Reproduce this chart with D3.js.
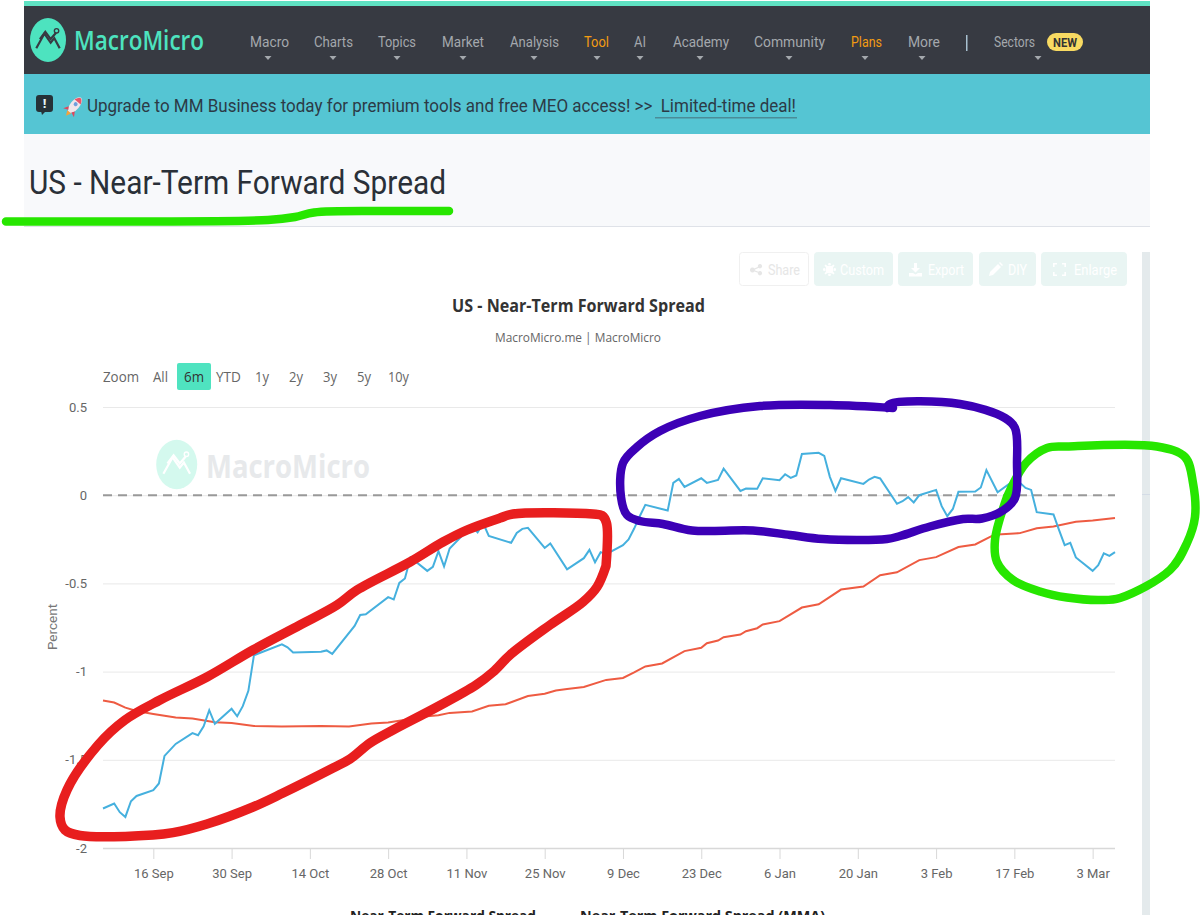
<!DOCTYPE html>
<html>
<head>
<meta charset="utf-8">
<title>US - Near-Term Forward Spread</title>
<script src="https://cdn.jsdelivr.net/npm/d3@7/dist/d3.min.js"></script>
<style>
html,body{margin:0;padding:0;background:#fff;overflow:hidden}
svg{display:block;font-family:"Open Sans",sans-serif}
</style>
</head>
<body>
<svg id="page" width="1200" height="915"></svg>
<script>
// Near-term forward spread, daily close
const spreadDates = ["2024-09-07","2024-09-09","2024-09-10","2024-09-11","2024-09-12","2024-09-13","2024-09-16","2024-09-17","2024-09-18","2024-09-20","2024-09-23","2024-09-24","2024-09-25","2024-09-26","2024-09-27","2024-09-30","2024-10-01","2024-10-02","2024-10-03","2024-10-04","2024-10-09","2024-10-10","2024-10-11","2024-10-16","2024-10-17","2024-10-18","2024-10-22","2024-10-23","2024-10-24","2024-10-28","2024-10-29","2024-10-30","2024-10-31","2024-11-01","2024-11-04","2024-11-05","2024-11-06","2024-11-07","2024-11-08","2024-11-11","2024-11-12","2024-11-13","2024-11-14","2024-11-15","2024-11-19","2024-11-20","2024-11-21","2024-11-22","2024-11-25","2024-11-26","2024-11-29","2024-12-02","2024-12-03","2024-12-04","2024-12-05","2024-12-06","2024-12-09","2024-12-10","2024-12-11","2024-12-12","2024-12-13","2024-12-17","2024-12-18","2024-12-19","2024-12-20","2024-12-23","2024-12-24","2024-12-26","2024-12-27","2024-12-30","2024-12-31","2025-01-02","2025-01-03","2025-01-06","2025-01-07","2025-01-08","2025-01-09","2025-01-10","2025-01-13","2025-01-14","2025-01-15","2025-01-16","2025-01-17","2025-01-21","2025-01-22","2025-01-23","2025-01-24","2025-01-27","2025-01-28","2025-01-29","2025-01-30","2025-01-31","2025-02-03","2025-02-04","2025-02-05","2025-02-06","2025-02-07","2025-02-10","2025-02-11","2025-02-12","2025-02-14","2025-02-17","2025-02-18","2025-02-19","2025-02-20","2025-02-21","2025-02-24","2025-02-25","2025-02-26","2025-02-27","2025-02-28","2025-03-03","2025-03-04","2025-03-05","2025-03-06","2025-03-07"];
const spreadValues = [-1.776,-1.748,-1.797,-1.824,-1.735,-1.705,-1.672,-1.634,-1.478,-1.410,-1.349,-1.361,-1.310,-1.219,-1.296,-1.211,-1.253,-1.196,-1.109,-0.907,-0.846,-0.862,-0.892,-0.888,-0.880,-0.900,-0.741,-0.679,-0.675,-0.578,-0.591,-0.497,-0.472,-0.353,-0.429,-0.406,-0.317,-0.404,-0.302,-0.204,-0.176,-0.211,-0.159,-0.231,-0.270,-0.214,-0.191,-0.185,-0.299,-0.274,-0.420,-0.357,-0.310,-0.380,-0.323,-0.334,-0.283,-0.251,-0.189,-0.119,-0.055,-0.087,0.070,0.092,0.047,0.096,0.070,0.087,0.151,0.024,0.038,0.036,0.096,0.085,0.119,0.098,0.112,0.234,0.240,0.223,0.104,0.024,0.096,0.064,0.089,0.104,0.095,-0.049,-0.034,-0.011,-0.041,0.000,0.030,-0.062,-0.119,-0.078,0.019,0.021,0.044,0.142,0.017,0.085,0.070,0.041,0.030,-0.096,-0.109,-0.198,-0.283,-0.270,-0.353,-0.429,-0.397,-0.329,-0.344,-0.323];

// Moving average of the same spread
const averageDates = ["2024-09-07","2024-09-09","2024-09-11","2024-09-13","2024-09-16","2024-09-20","2024-09-23","2024-09-27","2024-09-30","2024-10-04","2024-10-09","2024-10-16","2024-10-21","2024-10-25","2024-10-28","2024-10-30","2024-11-04","2024-11-06","2024-11-08","2024-11-12","2024-11-15","2024-11-18","2024-11-22","2024-11-25","2024-11-27","2024-11-29","2024-12-02","2024-12-06","2024-12-09","2024-12-11","2024-12-13","2024-12-16","2024-12-20","2024-12-23","2024-12-24","2024-12-26","2024-12-27","2024-12-30","2024-12-31","2025-01-02","2025-01-03","2025-01-06","2025-01-10","2025-01-13","2025-01-17","2025-01-21","2025-01-24","2025-01-27","2025-01-31","2025-02-03","2025-02-07","2025-02-10","2025-02-13","2025-02-14","2025-02-17","2025-02-18","2025-02-21","2025-02-24","2025-02-28","2025-03-03","2025-03-07"];
const averageValues = [-1.164,-1.175,-1.204,-1.223,-1.240,-1.260,-1.266,-1.287,-1.291,-1.308,-1.311,-1.308,-1.311,-1.294,-1.289,-1.279,-1.253,-1.247,-1.234,-1.226,-1.194,-1.185,-1.138,-1.126,-1.107,-1.098,-1.087,-1.047,-1.036,-1.005,-0.971,-0.954,-0.884,-0.865,-0.839,-0.824,-0.805,-0.790,-0.771,-0.754,-0.733,-0.714,-0.637,-0.618,-0.535,-0.518,-0.454,-0.437,-0.368,-0.351,-0.294,-0.279,-0.231,-0.223,-0.217,-0.215,-0.187,-0.177,-0.151,-0.143,-0.129];

const xTickDates = ["2024-09-16","2024-09-30","2024-10-14","2024-10-28","2024-11-11","2024-11-25","2024-12-09","2024-12-23","2025-01-06","2025-01-20","2025-02-03","2025-02-17","2025-03-03"];
const yTickValues = [-2,-1.5,-1,-0.5,0,0.5];

// Site header and toolbar text: label, left edge, width, caret centre
const navItems = [
  ["Macro",250,39,268],["Charts",314,39,333],["Topics",378,38,397],["Market",442,42,463],
  ["Analysis",510,49,534],["Tool",584,25,597],["AI",634,12,640],["Academy",673,56,700],
  ["Community",754,71,789],["Plans",851,31,865],["More",908,32,922],["Sectors",994,41,1038]
];
const accentNav = ["Tool","Plans"];
const rangeButtons = [["Zoom",103,36],["All",153,15],["6m",184,20],["YTD",216,25],["1y",255,14],["2y",289,14],["3y",323,14],["5y",357,14],["10y",388,21]];
// label, button left, button width, text left, text width, icon left
const toolButtons = [
  ["Share",739,70,768,32,750],["Custom",814,79,840,44,823],["Export",898,75,928,36,909],
  ["DIY",979,57,1008,19,989],["Enlarge",1041,86,1074,43,1053]
];
// Small toolbar glyphs, 13 units square
const toolIcons = [
  "M10,1 a2.2,2.2 0 1,1 -0.1,0 Z M2.5,4.5 a2.5,2.5 0 1,1 -0.1,0 Z M10,8 a2.2,2.2 0 1,1 -0.1,0 Z M3,6 L10,3 L10.5,4 L4,7 L10.5,9.5 L10,10.5 L3,8 Z",
  "M6.5,2.5 a4,4 0 1,0 0.01,0 Z M5.5,0 h2 l0.4,2 h-2.8 Z M5.5,13 h2 l0.4,-2 h-2.8 Z M0,5.5 v2 l2,0.4 v-2.8 Z M13,5.5 v2 l-2,0.4 v-2.8 Z M1.5,2.5 l1,-1 l2,1.5 l-1.5,1.5 Z M11.5,2.5 l-1,-1 l-2,1.5 l1.5,1.5 Z M1.5,10.5 l1,1 l2,-1.5 l-1.5,-1.5 Z M11.5,10.5 l-1,1 l-2,-1.5 l1.5,-1.5 Z",
  "M5,0 h3 v5 h3 l-4.5,4.5 L2,5 h3 Z M0,10 h4 l2.5,1.5 L9,10 h4 v3.5 h-13 Z",
  "M0,13 L1,9 L9,1 L12,4 L4,12 Z M10,0 L11,-1 L14,2 L13,3 Z",
  "M0,0 h4 v1.6 h-2.4 v2.4 h-1.6 Z M13,0 h-4 v1.6 h2.4 v2.4 h1.6 Z M0,13 h4 v-1.6 h-2.4 v-2.4 h-1.6 Z M13,13 h-4 v-1.6 h2.4 v-2.4 h1.6 Z"
];

// Freehand marker strokes drawn over the page
const markerUnderline = [[6,221.5],[115,221.5],[268,220],[295,217],[314,212.5],[383,211],[449,211]];
const markerRed = [[606,566],[606.5,523],[602,515.5],[593,514],[513,514],[500,518],[467,530],[443,542],[410,562],[357,590],[337,605],[300,625],[253,650],[207,677],[160,700],[125,720],[98,745],[67,790],[60,817],[65,830],[80,835.5],[153,835],[173,832.7],[207,824],[253,807],[283,793],[333,768],[350,759],[370,743],[393,730],[437,707],[476,685],[493,672],[510,655],[550,625],[583,602],[597,587],[606,566]];
const markerPurpleLeft = [[893,408],[830,405],[760,406],[700,416],[660,431],[637,447],[623,463],[621,497],[627,515],[640,521],[663,524],[692,530.5],[753,530.5],[790,535],[823,539],[887,539],[900,536],[930,526.5],[963,519],[982,518.5],[1003,510.5],[1015,498],[1017,463],[1015,428],[1005,418],[960,404],[890,404],[887,408]];
const markerGreen = [[1007,497],[1026,463],[1047,448],[1067,446.5],[1157,446.5],[1185,457],[1193,483],[1195,517],[1187,543],[1170,570],[1120,598],[1100,600],[1067,597.5],[1040,591.5],[1013,580],[997,562],[995,540],[1007,497]];

const parse = d3.utcParse("%Y-%m-%d");
const svg = d3.select("#page");

// Text squeezed to an exact width so the condensed header type lines up
function fitText(g, str, x, y, width, size, fill, weight) {
  return g.append("text").attr("x", x).attr("y", y).attr("fill", fill)
    .attr("font-size", size).attr("font-weight", weight || 400)
    .attr("textLength", width).attr("lengthAdjust", "spacingAndGlyphs").text(str);
}

function drawLogo(g, cx, cy, rx, ry, fill, stroke) {
  g.append("ellipse").attr("cx", cx).attr("cy", cy).attr("rx", rx).attr("ry", ry).attr("fill", fill);
  const sx = rx / 20, sy = ry / 24;
  const zig = [[-13,9],[-4,-7],[3,3],[7,-2],[13,9]].map(p => [cx + p[0]*sx, cy + p[1]*sy]);
  const zig2 = [[-9,-1],[-3,-9],[3,-1],[9,-8]].map(p => [cx + p[0]*sx, cy + p[1]*sy]);
  const line = d3.line();
  g.append("path").attr("d", line(zig)).attr("fill","none").attr("stroke",stroke).attr("stroke-width",2.2);
  g.append("path").attr("d", line(zig2)).attr("fill","none").attr("stroke",stroke).attr("stroke-width",2.2);
  g.append("circle").attr("cx", cx + 9.5*sx).attr("cy", cy - 10*sy).attr("r", 2.2).attr("fill","none").attr("stroke",stroke).attr("stroke-width",1.4);
}

// ---- Site header ----
const head = svg.append("g");
head.append("rect").attr("x",24).attr("y",1).attr("width",1126).attr("height",5).attr("fill","#5fe2c3");
head.append("rect").attr("x",24).attr("y",6).attr("width",1126).attr("height",68).attr("fill","#373a42");
head.append("rect").attr("x",24).attr("y",74).attr("width",1126).attr("height",60).attr("fill","#55c5d3");
head.append("rect").attr("x",24).attr("y",134).attr("width",1126).attr("height",92).attr("fill","#f8f9fb");
head.append("rect").attr("x",24).attr("y",226).attr("width",1126).attr("height",1).attr("fill","#dfe2e8");

drawLogo(head, 48, 40, 18, 22, "#4de3bf", "#373a42");
fitText(head, "MacroMicro", 74, 50, 130, 27, "#4de3bf", 600);

navItems.forEach(([label, x, w, caret]) => {
  fitText(head, label, x, 47, w, 15, accentNav.includes(label) ? "#f39c12" : "#a4a8ad").attr("font-family","Roboto");
  head.append("path").attr("d", d3.line()([[caret-3.5,56],[caret+3.5,56],[caret,60]])).attr("fill","#a4a8ad");
});
head.append("rect").attr("x",966).attr("y",35).attr("width",1.5).attr("height",16).attr("fill","#a8c0d0");
head.append("rect").attr("x",1047).attr("y",33).attr("width",36).attr("height",18).attr("rx",9).attr("fill","#f8da62");
fitText(head, "NEW", 1053, 47, 24, 12, "#333", 700).attr("font-family","Roboto");

// Announcement banner
head.append("rect").attr("x",36).attr("y",95).attr("width",17).attr("height",17).attr("rx",3).attr("fill","#263238");
head.append("path").attr("d", d3.line()([[41,111],[46,111],[42,115]])).attr("fill","#263238");
head.append("text").attr("x",44.5).attr("y",108).attr("text-anchor","middle").attr("font-size",13).attr("font-weight",700).attr("fill","#e8f4f6").text("!");
const rocket = head.append("g").attr("transform","translate(75,105) rotate(40)");
rocket.append("ellipse").attr("rx",4.5).attr("ry",9.5).attr("fill","#f1e6ea");
rocket.append("path").attr("d","M-4,-4 Q0,-14 4,-4 Z").attr("fill","#ea5468");
rocket.append("circle").attr("cy",-1).attr("r",2).attr("fill","#6f9fdc");
rocket.append("path").attr("d","M-4,5 L-7,10 L-2,8 Z M4,5 L7,10 L2,8 Z").attr("fill","#e0475c");
rocket.append("path").attr("d","M-2.5,9 L0,14 L2.5,9 Z").attr("fill","#f6a33b");
fitText(head, "Upgrade to MM Business today for premium tools and free MEO access! >>\u00a0\u00a0Limited-time deal!", 87, 112, 709, 18.5, "#2c3a46").attr("font-family","Roboto");
head.append("rect").attr("x",655).attr("y",117).attr("width",142).attr("height",1.5).attr("fill","#4a8c98");

fitText(head, "US - Near-Term Forward Spread", 29, 194, 417, 33, "#2a3038").attr("font-family","Roboto");

// ---- Chart toolbar ----
const toolbar = svg.append("g");
toolButtons.forEach(([label, x, w, tx, tw, ix], i) => {
  const ink = i === 0 ? "#e6e6e6" : "#fff";
  toolbar.append("rect").attr("x",x+0.5).attr("y",252.5).attr("width",w-1).attr("height",33).attr("rx",3)
    .attr("fill", i === 0 ? "#fff" : "#e9f5f3").attr("stroke", i === 0 ? "#f0f0f0" : "#e9f5f3");
  fitText(toolbar, label, tx, 275, tw, 15, ink).attr("font-family","Roboto");
  toolbar.append("path").attr("transform",`translate(${ix},263)`).attr("d",toolIcons[i]).attr("fill",ink);
});
svg.append("rect").attr("x",1142).attr("y",252).attr("width",8).attr("height",663).attr("fill","#e4eaec");
svg.append("rect").attr("x",1142).attr("y",494).attr("width",8).attr("height",1).attr("fill","#d4dce6");

// ---- Chart ----
const chart = svg.append("g");
fitText(chart, "US - Near-Term Forward Spread", 452, 312, 253, 17.5, "#333", 700);
fitText(chart, "MacroMicro.me | MacroMicro", 495, 342, 166, 13.5, "#666");

chart.append("rect").attr("x",177).attr("y",363).attr("width",34).attr("height",27).attr("rx",2).attr("fill","#4fe3c0");
rangeButtons.forEach(([label, x, w]) => fitText(chart, label, x, 382, w, 15, label === "6m" ? "#333" : "#666"));

drawLogo(chart, 176.7, 464.5, 20.5, 24.7, "#d4f9ee", "#fff");
fitText(chart, "MacroMicro", 206, 478, 164, 33, "#e7e9eb", 700);

const x = d3.scaleUtc().domain([parse("2024-09-07"), parse("2025-03-07")]).range([103, 1115]);
const y = d3.scaleLinear().domain([-2, 0.5]).range([848, 407]);

const yAxis = d3.axisLeft(y).tickValues(yTickValues).tickSize(0).tickPadding(16).tickFormat(d => String(d));
const yG = chart.append("g").attr("transform","translate(103,0)").call(yAxis);
yG.select(".domain").remove();
yG.selectAll("text").attr("fill","#666").attr("font-size",13).attr("font-family","Roboto");

chart.append("g").selectAll("line").data(yTickValues).join("line")
  .attr("x1",103).attr("x2",1115).attr("y1",d=>y(d)+0.5).attr("y2",d=>y(d)+0.5)
  .attr("stroke",d=>d===-2?"#d8d8d8":"#e9e9e9").attr("stroke-width",d=>d===-2?1.5:1);

const xAxis = d3.axisBottom(x).tickValues(xTickDates.map(parse)).tickSize(11).tickPadding(10).tickFormat(d3.utcFormat("%-d %b"));
const xG = chart.append("g").attr("transform","translate(0,848)").call(xAxis);
xG.select(".domain").remove();
xG.selectAll("line").attr("stroke","#d8d8d8");
xG.selectAll("text").attr("fill","#666").attr("font-size",13).attr("font-family","Roboto");

chart.append("text").attr("transform","translate(57,627) rotate(-90)").attr("text-anchor","middle")
  .attr("font-size",13.5).attr("font-family","Roboto").attr("fill","#777").text("Percent");

// Zero reference line
chart.append("line").attr("x1",103).attr("x2",1115).attr("y1",y(0)).attr("y2",y(0))
  .attr("stroke","#999").attr("stroke-width",2).attr("stroke-dasharray","9,6");

const seriesLine = d3.line().x(d=>x(d[0])).y(d=>y(d[1]));
chart.append("path").datum(averageDates.map((d,i)=>[parse(d),averageValues[i]]))
  .attr("d",seriesLine).attr("fill","none").attr("stroke","#ee5b42").attr("stroke-width",2);
chart.append("path").datum(spreadDates.map((d,i)=>[parse(d),spreadValues[i]]))
  .attr("d",seriesLine).attr("fill","none").attr("stroke","#45b0de").attr("stroke-width",2);

// Legend row, running off the bottom of the window
fitText(chart, "Near-Term Forward Spread", 350, 921, 186, 14, "#222", 700);
fitText(chart, "Near-Term Forward Spread (MMA)", 580, 921, 245, 14, "#222", 700);

// ---- Marker strokes ----
const marker = d3.line().curve(d3.curveCatmullRom.alpha(0.5));
const strokes = svg.append("g").attr("fill","none").attr("stroke-linecap","round").attr("stroke-linejoin","round");
strokes.append("path").attr("d",marker(markerUnderline)).attr("stroke","#27e600").attr("stroke-width",8.5);
strokes.append("path").attr("d",marker(markerGreen)).attr("stroke","#27e600").attr("stroke-width",8.5);
strokes.append("path").attr("d",marker(markerRed)).attr("stroke","#e81e1e").attr("stroke-width",9.5);
strokes.append("path").attr("d",marker(markerPurpleLeft)).attr("stroke","#3c00b6").attr("stroke-width",8.5);
</script>
</body>
</html>
